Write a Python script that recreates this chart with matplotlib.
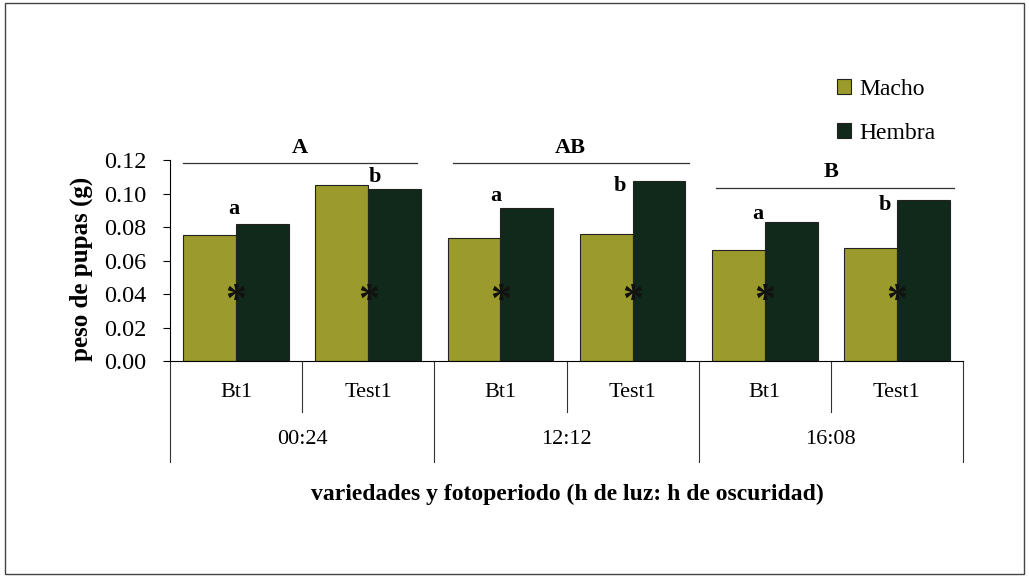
import numpy as np
import matplotlib.pyplot as plt
from matplotlib.patches import Rectangle

plt.rcParams['font.family'] = ['Liberation Serif', 'DejaVu Serif']

# ---- datos ----
variedades = ['Bt1', 'Test1', 'Bt1', 'Test1', 'Bt1', 'Test1']
fotoperiodos = ['00:24', '12:12', '16:08']
macho = [0.075, 0.105, 0.0735, 0.076, 0.066, 0.0675]
hembra = [0.082, 0.1025, 0.0915, 0.1075, 0.083, 0.096]
letras = ['a', 'b', 'a', 'b', 'a', 'b']
letras_pos = [(-0.015, 0.0907), (1.053, 0.1099), (1.962, 0.0985),
              (2.90, 0.1045), (3.947, 0.0878), (4.909, 0.0931)]
grupos = ['A', 'AB', 'B']
grupos_linea = [(-0.40, 1.37, 0.1182), (1.64, 3.43, 0.1182), (3.63, 5.43, 0.1033)]
grupos_texto = [(0.485, 0.127), (2.53, 0.127), (4.50, 0.1128)]
yticks = [0.00, 0.02, 0.04, 0.06, 0.08, 0.10, 0.12]

c_macho = '#9b9a2c'
c_hembra = '#11291a'

fig = plt.figure(figsize=(10.29, 5.77), dpi=100)
ax = fig.add_axes([170/1029, 1-361/577, (963-170)/1029, 201/577])

x = np.arange(len(variedades))
w = 0.4
ax.bar(x - w/2, macho, w, color=c_macho, edgecolor='#222222', linewidth=0.8, label='Macho')
ax.bar(x + w/2, hembra, w, color=c_hembra, edgecolor='#222222', linewidth=0.8, label='Hembra')

ax.set_xlim(-0.5, len(variedades) - 0.5)
ax.set_ylim(0, 0.12)
ax.set_yticks(yticks)
ax.set_yticklabels([f'{v:.2f}' for v in yticks], fontsize=17.5)
ax.set_xticks([])
ax.tick_params(axis='y', direction='out', length=5, width=0.8, pad=12)
for s in ['top', 'right']:
    ax.spines[s].set_visible(False)
ax.spines['left'].set_linewidth(0.8)
ax.spines['bottom'].set_linewidth(0.8)

# asteriscos
for xi in x:
    ax.text(xi, 0.0355, '*', ha='center', va='center', fontsize=30,
            fontweight='bold', color='#111111')

# letras minúsculas
for l, (lx, ly) in zip(letras, letras_pos):
    ax.text(lx, ly, l, ha='center', va='center', fontsize=16, fontweight='bold',
            clip_on=False)

# letras de grupo
for g, (x0, x1, yl), (tx, ty) in zip(grupos, grupos_linea, grupos_texto):
    ax.plot([x0, x1], [yl, yl], color='#333333', lw=0.9, clip_on=False)
    ax.text(tx, ty, g, ha='center', va='center', fontsize=16, fontweight='bold')

# eje de categorías jerárquico
tr = ax.get_xaxis_transform()
for i in range(len(variedades) + 1):
    y_end = -0.5025 if i % 2 == 0 else -0.2537
    ax.plot([i - 0.5, i - 0.5], [0, y_end], color='#333333', lw=0.8,
            transform=tr, clip_on=False)
for xi, v in zip(x, variedades):
    ax.text(xi, -0.159, v, ha='center', va='center', fontsize=16, transform=tr)
for j, f in enumerate(fotoperiodos):
    ax.text(2*j + 0.5, -0.393, f, ha='center', va='center', fontsize=16, transform=tr)

ax.set_ylabel('peso de pupas (g)', fontsize=18, fontweight='bold')
ax.yaxis.set_label_coords(-0.097, 0.46)
fig.text(567/1029, 1-494/577, 'variedades y fotoperiodo (h de luz: h de oscuridad)',
         ha='center', va='center', fontsize=17, fontweight='bold')

ax.legend(loc='upper left', bbox_to_anchor=(816/1029, 1-58/577),
          bbox_transform=fig.transFigure, frameon=False, fontsize=17,
          handlelength=0.6, handleheight=0.6, handletextpad=0.35,
          labelspacing=0.95)

# marco exterior
fig.patches.append(Rectangle((0.005, 0.006), 0.99, 0.988, transform=fig.transFigure,
                             fill=False, edgecolor='#444444', lw=1.0))

plt.savefig('out.png', dpi=100)
